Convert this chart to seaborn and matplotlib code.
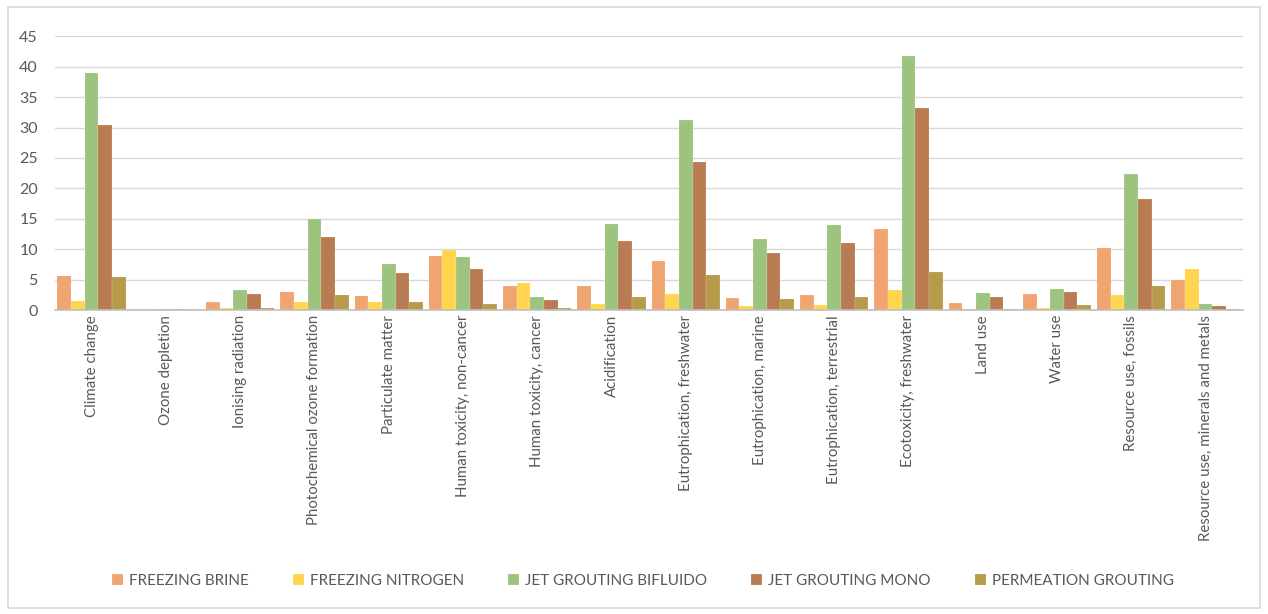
import pandas as pd
import matplotlib
matplotlib.use("Agg")
import matplotlib.pyplot as plt
import seaborn as sns
from matplotlib.patches import Rectangle

categories = [
    "Climate change", "Ozone depletion", "Ionising radiation",
    "Photochemical ozone formation", "Particulate matter",
    "Human toxicity, non-cancer", "Human toxicity, cancer", "Acidification",
    "Eutrophication, freshwater", "Eutrophication, marine",
    "Eutrophication, terrestrial", "Ecotoxicity, freshwater", "Land use",
    "Water use", "Resource use, fossils", "Resource use, minerals and metals",
]
freezing_brine = [5.6, 0.0, 1.4, 3.0, 2.3, 8.9, 3.9, 3.9, 8.0, 2.0, 2.4, 13.3, 1.2, 2.7, 10.2, 4.9]
freezing_nitrogen = [1.5, 0.0, 0.4, 1.3, 1.4, 9.9, 4.4, 0.95, 2.7, 0.7, 0.8, 3.3, 0.2, 0.3, 2.5, 6.7]
jet_bifluido = [39.0, 0.2, 3.3, 15.0, 7.6, 8.7, 2.1, 14.1, 31.2, 11.7, 14.0, 41.8, 2.8, 3.5, 22.3, 0.95]
jet_mono = [30.4, 0.2, 2.6, 12.0, 6.1, 6.7, 1.7, 11.3, 24.3, 9.4, 11.1, 33.2, 2.1, 3.0, 18.2, 0.7]
permeation = [5.4, 0.0, 0.4, 2.4, 1.3, 1.05, 0.3, 2.1, 5.7, 1.8, 2.2, 6.3, 0.2, 0.8, 3.9, 0.2]

series = {
    "FREEZING BRINE": freezing_brine,
    "FREEZING NITROGEN": freezing_nitrogen,
    "JET GROUTING BIFLUIDO": jet_bifluido,
    "JET GROUTING MONO": jet_mono,
    "PERMEATION GROUTING": permeation,
}
colors = ["#F0A46F", "#FFD54F", "#9CC47E", "#B97B52", "#B89B4A"]

rows = []
for name, vals in series.items():
    for cat, v in zip(categories, vals):
        rows.append({"category": cat, "method": name, "value": v})
df = pd.DataFrame(rows)

sns.set_style("white")
plt.rcParams["font.family"] = ["Lato", "DejaVu Sans"]

fig = plt.figure(figsize=(12.68, 6.14), dpi=100)
ax = fig.add_axes([0.043, 0.495, 0.937, 0.446])

sns.barplot(
    data=df, x="category", y="value", hue="method", order=categories,
    palette=colors, width=0.92, edgecolor="#FFFFFF60", linewidth=0.3,
    saturation=1, ax=ax,
)

ax.set_ylim(0, 45)
ax.set_yticks(range(0, 46, 5))
ax.set_xlim(-0.5, len(categories) - 0.5)
ax.yaxis.grid(True, color="#D9D9D9", linewidth=1)
ax.set_axisbelow(True)
for s in ["top", "right", "left"]:
    ax.spines[s].set_visible(False)
ax.spines["bottom"].set_color("#BFBFBF")
ax.spines["bottom"].set_linewidth(1.2)
ax.tick_params(axis="both", length=0, colors="#595959", labelsize=10.8)
ax.tick_params(axis="y", labelsize=11.5, pad=12)
ax.set_xticks(range(len(categories)))
ax.set_xticklabels(categories, rotation=90)
ax.set_xlabel("")
ax.set_ylabel("")

handles, labels = ax.get_legend_handles_labels()
ax.get_legend().remove()
fig.legend(
    handles, labels, loc="center", bbox_to_anchor=(0.507, 0.054), ncol=5,
    frameon=False, fontsize=11, handlelength=0.7, handleheight=0.7,
    columnspacing=2.9, handletextpad=0.4, labelcolor="#595959",
)

fig.patches.append(Rectangle((0.006, 0.01), 0.988, 0.978, transform=fig.transFigure,
                             fill=False, edgecolor="#D9D9D9", linewidth=1.2))

fig.savefig("out.png", dpi=100)
